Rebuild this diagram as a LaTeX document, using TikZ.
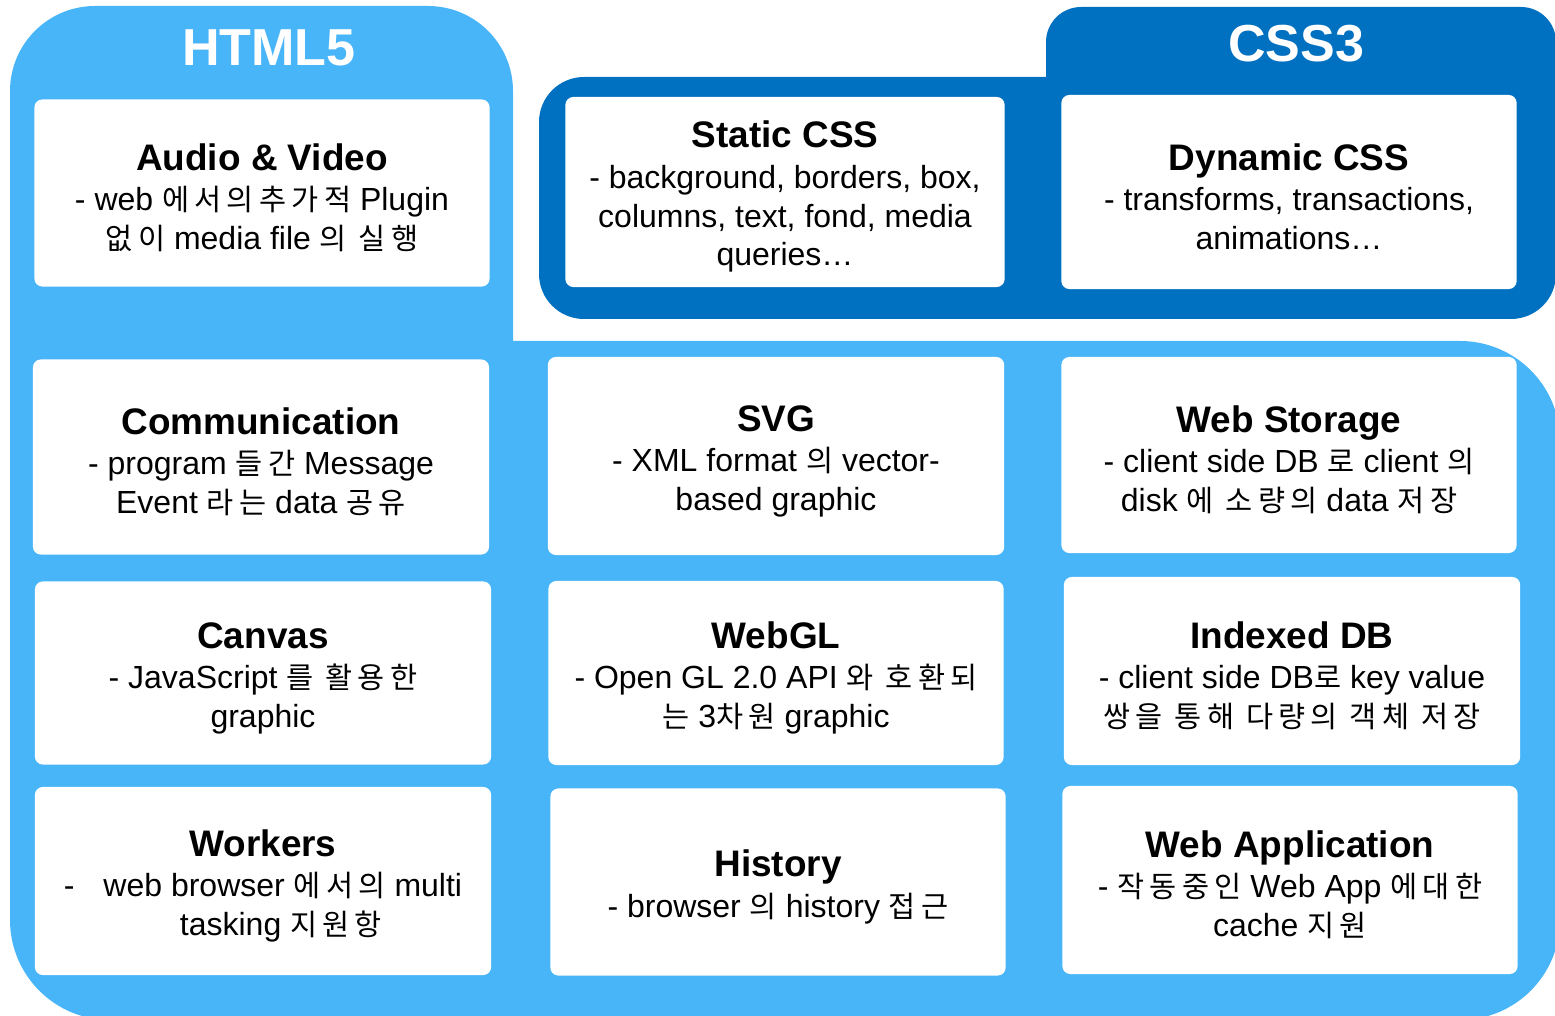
\documentclass[tikz,border=0pt]{standalone}
\usepackage{fontspec}
\setmainfont{Liberation Sans}
\newfontfamily\kr[Scale=0.92, LetterSpace=18]{Noto Sans CJK KR}
\definecolor{htmlblue}{HTML}{49B5F9}
\definecolor{cssblue}{HTML}{0070C0}
\newcommand{\heading}[1]{{\bfseries\fontsize{10.5}{12}\selectfont\rule{0pt}{10.3pt}#1}}
\newcommand{\hg}[1]{{\kr #1}}
\begin{document}
\begin{tikzpicture}[x=0.01cm, y=-0.01cm,
	feature/.style={rectangle, rounded corners=0.08cm, fill=white, minimum width=4.55cm, align=center, inner sep=0pt, font=\fontsize{9.1}{11}\selectfont},
	tabtitle/.style={text=white, font=\bfseries\fontsize{14.8}{17}\selectfont}]
	\useasboundingbox (0,0) rectangle (1555,1016);
	% background shapes
	\fill[htmlblue, rounded corners=0.85cm] (10,6) rectangle (513,700);
	\fill[htmlblue, rounded corners=1cm] (10,341) rectangle (1560,1020);
	\fill[cssblue, rounded corners=0.35cm] (1046,7) rectangle (1556,200);
	\fill[cssblue, rounded corners=0.45cm] (539,77) rectangle (1556,319);
	\node (HTML) [tabtitle] at (269,48) {HTML5};
	\node (CSS) [tabtitle] at (1296,44) {CSS3};
	% CSS3
	\node (StaticCSS) [feature, minimum width=4.39cm, minimum height=1.9cm] at (785,192) {\heading{Static CSS}\\[0.5pt] - background, borders, box,\\ columns, text, fond, media\\ queries…};
	\node (DynamicCSS) [feature, minimum height=1.94cm] at (1289,192) {\heading{Dynamic CSS}\\[0.5pt] - transforms, transactions,\\ animations…};
	% HTML5
	\node (AudioVideo) [feature, minimum height=1.87cm] at (262,193) {\heading{Audio \& Video}\\[0.5pt] - web \hg{에서의추가적} Plugin\\ \hg{없이} media file \hg{의 실행}};
	\node (Communication) [feature, minimum width=4.56cm, minimum height=1.95cm] at (261,457) {\heading{Communication}\\[0.5pt] - program \hg{들간} Message\\ Event \hg{라는} data \hg{공유}};
	\node (SVG) [feature, minimum width=4.56cm, minimum height=1.98cm] at (776,456) {\heading{SVG}\\[0.5pt] - XML format \hg{의} vector-\\ based graphic};
	\node (WebStorage) [feature, minimum height=1.96cm] at (1289,455) {\heading{Web Storage}\\[0.5pt] - client side DB \hg{로} client \hg{의}\\ disk \hg{에 소량의} data \hg{저장}};
	\node (Canvas) [feature, minimum width=4.56cm, minimum height=1.83cm] at (263,673) {\heading{Canvas}\\[0.5pt] - JavaScript \hg{를 활용한}\\ graphic};
	\node (WebGL) [feature, minimum height=1.84cm] at (776,673) {\heading{WebGL}\\[0.5pt] - Open GL 2.0 API \hg{와 호환되}\\ \hg{는} 3\hg{차원} graphic};
	\node (IndexedDB) [feature, minimum width=4.56cm, minimum height=1.88cm] at (1292,671) {\heading{Indexed DB}\\[0.5pt] - client side DB\hg{로} key value\\ \hg{쌍을 통해 다량의 객체 저장}};
	\node (Workers) [feature, minimum width=4.56cm, minimum height=1.88cm] at (263,881) {\heading{Workers}\\[0.5pt] -\hspace{0.2cm} web browser \hg{에서의} multi\\ \hspace*{0.36cm}tasking \hg{지원항}};
	\node (History) [feature, minimum height=1.87cm] at (778,882) {\heading{History}\\[0.5pt] - browser \hg{의} history \hg{접근}};
	\node (WebApp) [feature, minimum height=1.88cm] at (1290,880) {\heading{Web Application}\\[0.5pt] - \hg{작동중인} Web App \hg{에대한}\\ cache \hg{지원}};
\end{tikzpicture}
\end{document}
